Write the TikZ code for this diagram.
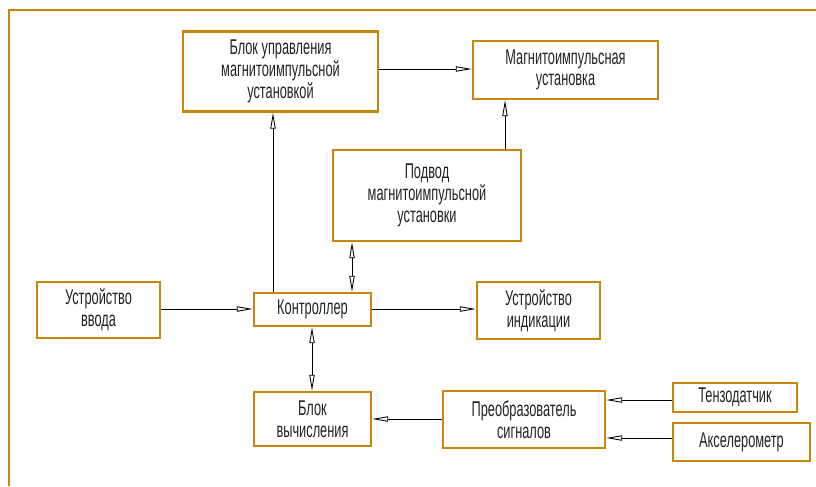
\documentclass[tikz,border=0pt]{standalone}
\usepackage{fontspec}
\setmainfont{Liberation Sans}[FakeStretch=0.6]
\usetikzlibrary{arrows.meta}
\definecolor{frameorange}{HTML}{C8860A}
\definecolor{txt}{HTML}{222222}
\begin{document}
\begin{tikzpicture}[x=0.75pt,y=-0.75pt,
  box/.style={draw=frameorange,line width=1.8pt,inner sep=0pt,align=center,
    text=txt,font=\fontsize{16}{16.3}\selectfont},
  sz/.style 2 args={minimum width=#1*0.75pt,minimum height=#2*0.75pt},
  tip/.style={Triangle[open,length=12pt,width=4pt,line width=0.7pt]},
  arr/.style={draw=black,line width=0.65pt,-{Triangle[open,length=12pt,width=4pt]}},
  arrtwo/.style={draw=black,line width=0.65pt,{Triangle[open,length=12pt,width=4pt]}-{Triangle[open,length=12pt,width=4pt]}}]
\useasboundingbox (0,0) rectangle (816,486);
% frame
\draw[frameorange,line width=1.8pt] (9,486) -- (9,10) -- (816,10);
% nodes
\node[box,sz={195}{80}] (blk) at (280.5,71.5) {Блок управления\\магнитоимпульсной\\установкой};
\node[box,sz={185}{58}] (mag) at (565.5,70) {Магнитоимпульсная\\установка};
\node[box,sz={188}{91}] (pod) at (427,195.5) {Подвод\\магнитоимпульсной\\установки};
\node[box,sz={117}{33}] (ctrl) at (312.5,309.5) {Контроллер};
\node[box,sz={123}{57}] (ind) at (538.5,310.5) {Устройство\\индикации};
\node[box,sz={123}{56}] (vvod) at (98.5,310) {Устройство\\ввода};
\node[box,sz={117}{54}] (calc) at (312.5,419) {Блок\\вычисления};
\node[box,sz={162}{57}] (conv) at (524,419.5) {Преобразователь\\сигналов};
\node[box,sz={124}{29}] (tenz) at (735,397.5) {Тензодатчик};
\node[box,sz={137}{38}] (acc) at (741.5,442) {Акселерометр};
% helper coordinates
\coordinate (ya) at (0,69);
\coordinate (yc) at (0,309);
\coordinate (ye) at (0,419);
\coordinate (yt) at (0,400);
\coordinate (yac) at (0,438);
\coordinate (xa) at (273,0);
\coordinate (xb) at (505,0);
\coordinate (xc) at (352,0);
\coordinate (xd) at (312,0);
% connectors
\draw[arr] (blk.east |- ya) -- (mag.west |- ya);
\draw[arr] (pod.north -| xb) -- (mag.south -| xb);
\draw[arr] (ctrl.north -| xa) -- (blk.south -| xa);
\draw[arrtwo] (ctrl.north -| xc) -- (pod.south -| xc);
\draw[arr] (vvod.east |- yc) -- (ctrl.west |- yc);
\draw[arr] (ctrl.east |- yc) -- (ind.west |- yc);
\draw[arrtwo] (ctrl.south -| xd) -- (calc.north -| xd);
\draw[arr] (conv.west |- ye) -- (calc.east |- ye);
\draw[arr] (tenz.west |- yt) -- (conv.east |- yt);
\draw[arr] (acc.west |- yac) -- (conv.east |- yac);
\end{tikzpicture}
\end{document}
